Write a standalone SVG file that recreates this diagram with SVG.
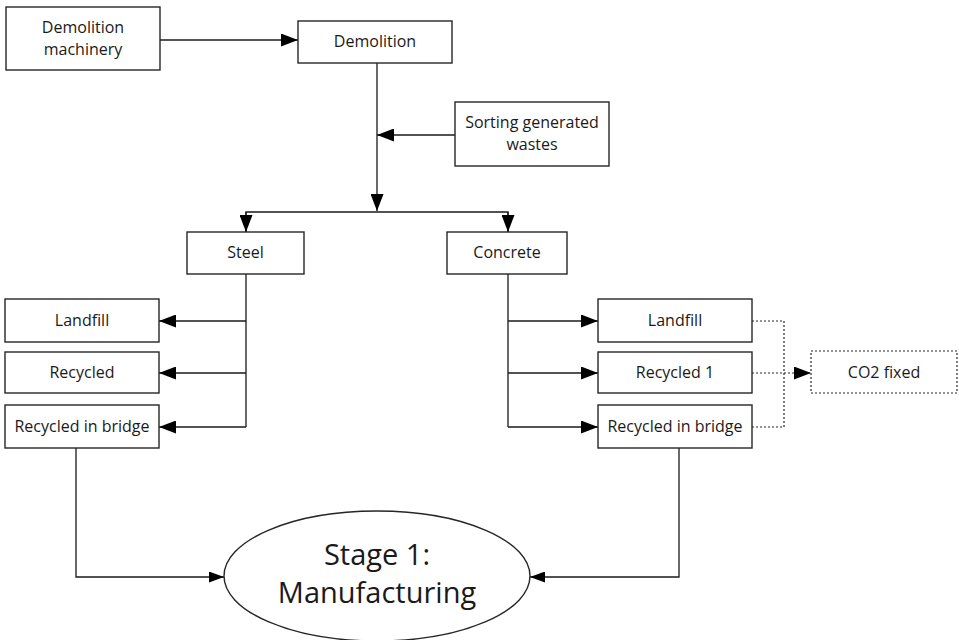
<svg xmlns="http://www.w3.org/2000/svg" width="959" height="640" viewBox="0 0 959 640">
  <style>
    .box { fill: #ffffff; stroke: #262626; stroke-width: 1.4; }
    .dbox { fill: #ffffff; stroke: #262626; stroke-width: 1.2; stroke-dasharray: 2 2; }
    .lbl { font-family: "Open Sans", "Liberation Sans", sans-serif; font-size: 16px; fill: #1a1a1a; text-anchor: middle; }
    .big { font-family: "Open Sans", "Liberation Sans", sans-serif; font-size: 29px; fill: #1a1a1a; text-anchor: middle; }
    .ln { fill: none; stroke: #1a1a1a; stroke-width: 1.3; }
    .dot { fill: none; stroke: #262626; stroke-width: 1.2; stroke-dasharray: 2 2; }
  </style>
  <defs>
    <marker id="arrow" markerUnits="userSpaceOnUse" markerWidth="17" markerHeight="13" refX="17" refY="6.5" orient="auto">
      <path d="M0,0 L17,6.5 L0,13 Z" fill="#000000"/>
    </marker>
    <marker id="arrow-sm" markerUnits="userSpaceOnUse" markerWidth="15" markerHeight="11" refX="15" refY="5.5" orient="auto">
      <path d="M0,0 L15,5.5 L0,11 Z" fill="#000000"/>
    </marker>
  </defs>
  <rect width="959" height="640" fill="#ffffff"/>

  <!-- connectors -->
  <g id="connectors">
    <line class="ln" x1="160" y1="40" x2="298" y2="40" marker-end="url(#arrow)"/>
    <line class="ln" x1="377" y1="63" x2="377" y2="211" marker-end="url(#arrow)"/>
    <line class="ln" x1="455" y1="135" x2="377" y2="135" marker-end="url(#arrow)"/>
    <polyline class="ln" points="246,232 246,212 508,212 508,232"/>
    <line class="ln" x1="246" y1="212" x2="246" y2="232" marker-end="url(#arrow)"/>
    <line class="ln" x1="508" y1="212" x2="508" y2="232" marker-end="url(#arrow)"/>

    <!-- steel branches -->
    <line class="ln" x1="246" y1="274" x2="246" y2="427"/>
    <line class="ln" x1="246" y1="321" x2="159" y2="321" marker-end="url(#arrow)"/>
    <line class="ln" x1="246" y1="373" x2="159" y2="373" marker-end="url(#arrow)"/>
    <line class="ln" x1="246" y1="427" x2="159" y2="427" marker-end="url(#arrow)"/>

    <!-- concrete branches -->
    <line class="ln" x1="508" y1="274" x2="508" y2="427"/>
    <line class="ln" x1="508" y1="321" x2="598" y2="321" marker-end="url(#arrow)"/>
    <line class="ln" x1="508" y1="373" x2="598" y2="373" marker-end="url(#arrow)"/>
    <line class="ln" x1="508" y1="427" x2="598" y2="427" marker-end="url(#arrow)"/>

    <!-- CO2 fixation links -->
    <polyline class="dot" points="752,321 784,321 784,427 752,427"/>
    <line class="dot" x1="752" y1="373" x2="811" y2="373" marker-end="url(#arrow)"/>

    <!-- feeds into manufacturing -->
    <polyline class="ln" points="76,448 76,577 224,577" marker-end="url(#arrow-sm)"/>
    <polyline class="ln" points="679,448 679,577 530,577" marker-end="url(#arrow-sm)"/>
  </g>

  <g id="demolition-machinery">
    <rect class="box" x="6" y="7" width="154" height="63"/>
    <text class="lbl" x="83" y="33">Demolition</text>
    <text class="lbl" x="83" y="55">machinery</text>
  </g>

  <g id="demolition">
    <rect class="box" x="298" y="21" width="154" height="42"/>
    <text class="lbl" x="375" y="47">Demolition</text>
  </g>

  <g id="sorting">
    <rect class="box" x="455" y="102" width="154" height="64"/>
    <text class="lbl" x="532" y="128">Sorting generated</text>
    <text class="lbl" x="532" y="150">wastes</text>
  </g>

  <g id="steel">
    <rect class="box" x="187" y="232" width="117" height="42"/>
    <text class="lbl" x="245.5" y="258">Steel</text>
  </g>

  <g id="concrete">
    <rect class="box" x="447" y="232" width="120" height="42"/>
    <text class="lbl" x="507" y="258">Concrete</text>
  </g>

  <g id="steel-landfill">
    <rect class="box" x="5" y="299" width="154" height="43"/>
    <text class="lbl" x="82" y="326">Landfill</text>
  </g>

  <g id="steel-recycled">
    <rect class="box" x="5" y="352" width="154" height="41"/>
    <text class="lbl" x="82" y="378">Recycled</text>
  </g>

  <g id="steel-bridge">
    <rect class="box" x="5" y="405" width="154" height="43"/>
    <text class="lbl" x="82" y="432">Recycled in bridge</text>
  </g>

  <g id="concrete-landfill">
    <rect class="box" x="598" y="299" width="154" height="43"/>
    <text class="lbl" x="675" y="326">Landfill</text>
  </g>

  <g id="concrete-recycled">
    <rect class="box" x="598" y="352" width="154" height="41"/>
    <text class="lbl" x="675" y="378">Recycled 1</text>
  </g>

  <g id="concrete-bridge">
    <rect class="box" x="598" y="405" width="154" height="43"/>
    <text class="lbl" x="675" y="432">Recycled in bridge</text>
  </g>

  <g id="co2-fixed">
    <rect class="dbox" x="811" y="351" width="146" height="42"/>
    <text class="lbl" x="884" y="378">CO2 fixed</text>
  </g>

  <g id="manufacturing">
    <ellipse class="box" cx="377" cy="576" rx="153" ry="65"/>
    <text class="big" x="377" y="565">Stage 1:</text>
    <text class="big" x="377" y="603">Manufacturing</text>
  </g>
</svg>
